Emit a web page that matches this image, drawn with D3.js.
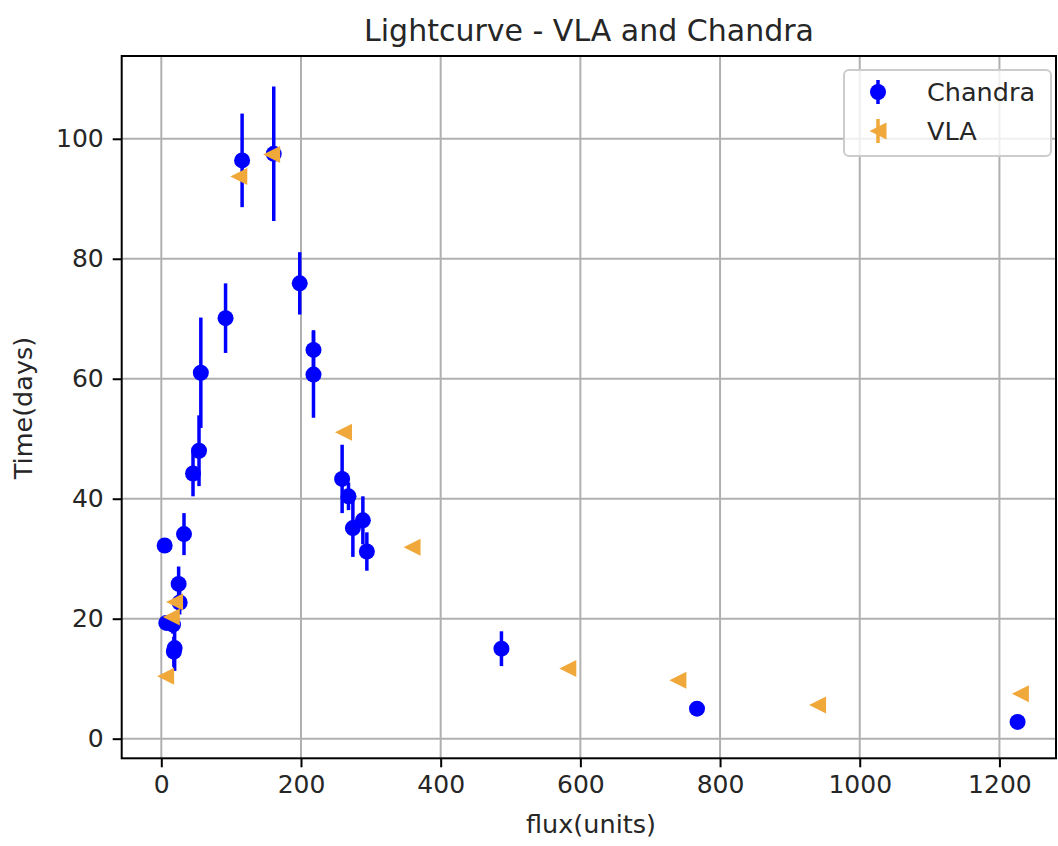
<!DOCTYPE html>
<html>
<head>
<meta charset="utf-8">
<script src="https://cdn.jsdelivr.net/npm/d3@7"></script>
<style>
  body { margin: 0; background: #fff; }
  text { font-family: "DejaVu Sans", sans-serif; fill: #262626; }
</style>
</head>
<body>
<div id="chart"></div>
<script>
// Chandra points
const chandraFlux = [4.8, 7.2, 16.7, 19.1, 18.0, 24.8, 26.3, 32.5, 45.4, 54.0, 56.6, 92.0,
  115.7, 161.0, 198.2, 217.9, 217.9, 258.9, 268.0, 274.3, 288.6, 294.3, 487.0, 767.0, 1226.0]
const chandraTime = [32.2, 19.3, 19.0, 15.1, 14.5, 25.8, 22.7, 34.1, 44.2, 48.0, 61.0, 70.1,
  96.4, 97.5, 75.9, 64.8, 60.7, 43.3, 40.4, 35.1, 36.4, 31.2, 15.0, 5.0, 2.8]
const chandraErr = [0.5, 1.0, 1.5, 3.8, 2.5, 2.9, 2.0, 3.5, 3.8, 5.9, 9.2, 5.8,
  7.8, 11.2, 5.2, 3.3, 7.2, 5.7, 2.3, 4.8, 4.0, 3.2, 2.9, 1.0, 0.8]

// VLA points
const vlaFlux = [6.2, 14.3, 19.0, 111.0, 158.0, 260.9, 359.0, 582.0, 739.6, 939.6, 1230.0]
const vlaTime = [10.4, 20.3, 22.8, 93.7, 97.4, 51.1, 31.9, 11.7, 9.75, 5.6, 7.5]
const vlaErr = [0.4, 0.4, 0.4, 0.4, 0.4, 0.4, 0.4, 0.4, 0.4, 0.4, 0.4]

const xTicks = [0, 200, 400, 600, 800, 1000, 1200]
const yTicks = [0, 20, 40, 60, 80, 100]

const chandraColor = "#0000ff"
const vlaColor = "#f0a83a"

// DIMENSIONS
let dimensions = {
  width: 1058,
  height: 846,
  margin: { top: 56, right: 2, bottom: 87.7, left: 121.7 },
}
dimensions.boundedWidth = dimensions.width - dimensions.margin.left - dimensions.margin.right
dimensions.boundedHeight = dimensions.height - dimensions.margin.top - dimensions.margin.bottom

const svg = d3.select("#chart").append("svg")
  .attr("width", dimensions.width)
  .attr("height", dimensions.height)

const bounds = svg.append("g")
  .attr("transform", `translate(${dimensions.margin.left},${dimensions.margin.top})`)

const xScale = d3.scaleLinear()
  .domain([-56.7, 1281])
  .range([0, dimensions.boundedWidth])
const yScale = d3.scaleLinear()
  .domain([-3.27, 113.8])
  .range([dimensions.boundedHeight, 0])

// grid
bounds.append("g").selectAll("line").data(xTicks).join("line")
  .attr("x1", d => xScale(d)).attr("x2", d => xScale(d))
  .attr("y1", 0).attr("y2", dimensions.boundedHeight)
  .attr("stroke", "#b0b0b0").attr("stroke-width", 2)
bounds.append("g").selectAll("line").data(yTicks).join("line")
  .attr("y1", d => yScale(d)).attr("y2", d => yScale(d))
  .attr("x1", 0).attr("x2", dimensions.boundedWidth)
  .attr("stroke", "#b0b0b0").attr("stroke-width", 2)

const triangleLeft = (cx, cy, r = 8.5) =>
  `M${cx - r},${cy} L${cx + r},${cy - r} L${cx + r},${cy + r} Z`

const drawSeries = (flux, time, err, color, marker) => {
  const pts = flux.map((f, i) => ({ x: f, y: time[i], e: err[i] }))
  const g = bounds.append("g")
  g.selectAll("line.err").data(pts).join("line")
    .attr("class", "err")
    .attr("x1", d => xScale(d.x)).attr("x2", d => xScale(d.x))
    .attr("y1", d => yScale(d.y - d.e)).attr("y2", d => yScale(d.y + d.e))
    .attr("stroke", color).attr("stroke-width", 3.5)
  if (marker === "circle") {
    g.selectAll("circle").data(pts).join("circle")
      .attr("cx", d => xScale(d.x)).attr("cy", d => yScale(d.y))
      .attr("r", 8).attr("fill", color)
  } else {
    g.selectAll("path").data(pts).join("path")
      .attr("d", d => triangleLeft(xScale(d.x), yScale(d.y)))
      .attr("fill", color)
  }
}

drawSeries(chandraFlux, chandraTime, chandraErr, chandraColor, "circle")
drawSeries(vlaFlux, vlaTime, vlaErr, vlaColor, "triangle")

// axes
const xAxis = bounds.append("g")
  .attr("transform", `translate(0,${dimensions.boundedHeight})`)
  .call(d3.axisBottom(xScale).tickValues(xTicks).tickFormat(d3.format("d")).tickSize(9).tickPadding(8))
const yAxis = bounds.append("g")
  .call(d3.axisLeft(yScale).tickValues(yTicks).tickFormat(d3.format("d")).tickSize(9).tickPadding(9))
;[xAxis, yAxis].forEach(ax => {
  ax.select(".domain").remove()
  ax.selectAll(".tick line").attr("stroke", "#000").attr("stroke-width", 2)
  ax.selectAll(".tick text").style("font-size", "25px").attr("fill", "#262626")
})

// spines
bounds.append("rect")
  .attr("width", dimensions.boundedWidth).attr("height", dimensions.boundedHeight)
  .attr("fill", "none").attr("stroke", "#000").attr("stroke-width", 2)

// labels
svg.append("text")
  .attr("x", 589).attr("y", 41)
  .attr("text-anchor", "middle")
  .style("font-size", "30px")
  .text("Lightcurve - VLA and Chandra")
svg.append("text")
  .attr("x", 591).attr("y", 833)
  .attr("text-anchor", "middle")
  .style("font-size", "25.5px")
  .text("flux(units)")
svg.append("text")
  .attr("transform", "translate(32,408) rotate(-90)")
  .attr("text-anchor", "middle")
  .style("font-size", "25.5px")
  .text("Time(days)")

// legend
const legend = svg.append("g")
legend.append("rect")
  .attr("x", 844).attr("y", 70).attr("width", 207).attr("height", 86).attr("rx", 5)
  .attr("fill", "#fff").attr("fill-opacity", 0.8)
  .attr("stroke", "#cccccc").attr("stroke-width", 2)
const legendItems = [
  { name: "Chandra", color: chandraColor, marker: "circle", y: 92 },
  { name: "VLA", color: vlaColor, marker: "triangle", y: 131 },
]
legendItems.forEach(item => {
  legend.append("line")
    .attr("x1", 878).attr("x2", 878)
    .attr("y1", item.y - 12).attr("y2", item.y + 12)
    .attr("stroke", item.color).attr("stroke-width", 3.5)
  if (item.marker === "circle") {
    legend.append("circle").attr("cx", 878).attr("cy", item.y).attr("r", 8).attr("fill", item.color)
  } else {
    legend.append("path").attr("d", triangleLeft(878, item.y)).attr("fill", item.color)
  }
  legend.append("text")
    .attr("x", 927).attr("y", item.y)
    .attr("dominant-baseline", "central")
    .style("font-size", "25.5px")
    .text(item.name)
})
</script>
</body>
</html>
